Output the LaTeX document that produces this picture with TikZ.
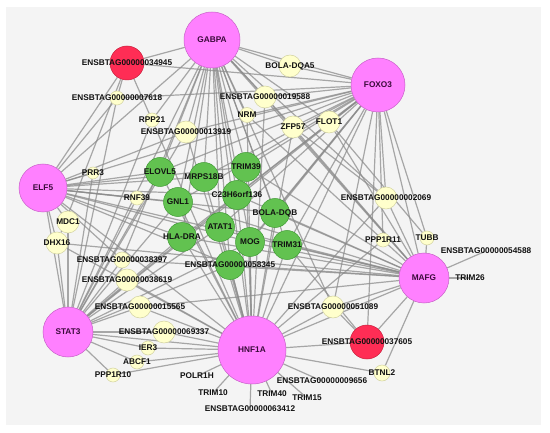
\documentclass[tikz,border=0pt]{standalone}
\usepackage{fontspec}
\setmainfont{Liberation Sans}
\usetikzlibrary{backgrounds}
\definecolor{hubfill}{HTML}{FF80FF}
\definecolor{hubline}{HTML}{C860C8}
\definecolor{redfill}{HTML}{FF2D55}
\definecolor{redline}{HTML}{C8203C}
\definecolor{grnfill}{HTML}{62C250}
\definecolor{grnline}{HTML}{3E9A32}
\definecolor{yelfill}{HTML}{FFFFCC}
\definecolor{yelline}{HTML}{D2D2A0}
\definecolor{bggray}{HTML}{F4F4F4}
\definecolor{edgecol}{HTML}{8C8C8C}
\definecolor{hubtext}{HTML}{3A0A3A}
\definecolor{plaintext}{HTML}{111111}
\tikzset{
  hub/.style={circle,inner sep=0pt,fill=hubfill,draw=hubline,line width=0.5bp},
  redn/.style={circle,inner sep=0pt,fill=redfill,draw=redline,line width=0.5bp},
  grn/.style={circle,inner sep=0pt,fill=grnfill,draw=grnline,line width=0.5bp},
  yel/.style={circle,inner sep=0pt,fill=yelfill,draw=yelline,line width=0.5bp},
  hid/.style={circle,inner sep=0pt},
  lbl/.style={inner sep=0pt,font=\bfseries\fontsize{8.3}{9}\selectfont},
  edge/.style={draw=edgecol,draw opacity=0.75,line width=1.2bp}
}
\def\nodelist{gabpa/212/40/hub/56/GABPA/hubtext,
foxo/378/85/hub/54/FOXO3/hubtext,
elf/43/188/hub/48/ELF5/hubtext,
stat/68/332/hub/50/STAT3/hubtext,
hnf/252/350/hub/68/HNF1A/hubtext,
mafg/424/278/hub/50/MAFG/hubtext,
ra/127/63/redn/34/ENSBTAG00000034945/plaintext,
rb/367/342/redn/34/ENSBTAG00000037605/plaintext,
dqa/290/66/yel/22/BOLA-DQA5/plaintext,
ea/265/97/yel/22/ENSBTAG00000019588/plaintext,
nrm/247/115/yel/15/NRM/plaintext,
zfp/293/127/yel/22/ZFP57/plaintext,
flot/329/122/yel/22/FLOT1/plaintext,
eb/117/98/yel/14/ENSBTAG00000007618/plaintext,
rpp/152/120/yel/14/RPP21/plaintext,
ec/186/132/yel/22/ENSBTAG00000013919/plaintext,
prr/93/173/yel/12/PRR3/plaintext,
rnf/137/198/yel/14/RNF39/plaintext,
mdc/68/222/yel/22/MDC1/plaintext,
dhx/57/243/yel/22/DHX16/plaintext,
ed/122/260/yel/16/ENSBTAG00000038397/plaintext,
ee/127/280/yel/22/ENSBTAG00000038619/plaintext,
ef/140/307/yel/22/ENSBTAG00000015565/plaintext,
eg/164/332/yel/22/ENSBTAG00000069337/plaintext,
ier/148/348/yel/14/IER3/plaintext,
abcf/137/362/yel/14/ABCF1/plaintext,
pten/113/375/yel/14/PPP1R10/plaintext,
polr/197/376/hid/2/POLR1H/plaintext,
tten/213/393/hid/2/TRIM10/plaintext,
tforty/272/394/hid/2/TRIM40/plaintext,
tfif/307/398/hid/2/TRIM15/plaintext,
eh/250/409/hid/2/ENSBTAG00000063412/plaintext,
ei/322/381/hid/2/ENSBTAG00000009656/plaintext,
btnl/382/373/yel/16/BTNL2/plaintext,
ej/333/307/yel/22/ENSBTAG00000051089/plaintext,
ek/386/198/yel/22/ENSBTAG00000002069/plaintext,
pel/383/240/yel/14/PPP1R11/plaintext,
tubb/427/238/yel/14/TUBB/plaintext,
el/486/251/hid/2/ENSBTAG00000054588/plaintext,
tts/470/278/hid/2/TRIM26/plaintext,
elovl/160/172/grn/29/ELOVL5/plaintext,
mrps/204/177/grn/29/MRPS18B/plaintext,
ttn/246/167/grn/29/TRIM39/plaintext,
gnl/178/202/grn/29/GNL1/plaintext,
corf/237/195/grn/29/C23H6orf136/plaintext,
dqb/275/213/grn/29/BOLA-DQB/plaintext,
atat/220/227/grn/29/ATAT1/plaintext,
hla/182/237/grn/29/HLA-DRA/plaintext,
mog/250/242/grn/29/MOG/plaintext,
tto/287/245/grn/29/TRIM31/plaintext,
em/230/265/grn/29/ENSBTAG00000058345/plaintext}
\begin{document}
\begin{tikzpicture}[x=1bp,y=-1bp]
\useasboundingbox (0,0) rectangle (550,433);
\foreach \n/\x/\y/\s/\d/\t/\c in \nodelist {\node[\s,minimum size=\d bp] (\n) at (\x,\y) {};}
\begin{pgfonlayer}{background}
\fill[white] (0,0) rectangle (550,433);
\fill[bggray] (6,7) rectangle (541,425);
\foreach \a/\b in {
gabpa/foxo,gabpa/elf,gabpa/hnf,gabpa/mafg,gabpa/stat,gabpa/ra,gabpa/dqa,gabpa/ea,gabpa/nrm,gabpa/zfp,gabpa/flot,gabpa/ec,gabpa/rpp,gabpa/elovl,gabpa/mrps,gabpa/ttn,gabpa/gnl,gabpa/corf,gabpa/atat,gabpa/hla,gabpa/mog,gabpa/dqb,gabpa/tto,gabpa/em,gabpa/ek,gabpa/ed,gabpa/ej,
foxo/dqa,foxo/ea,foxo/zfp,foxo/flot,foxo/nrm,foxo/eb,foxo/ra,foxo/ttn,foxo/corf,foxo/dqb,foxo/mog,foxo/tto,foxo/em,foxo/atat,foxo/mrps,foxo/elovl,foxo/gnl,foxo/hla,foxo/elf,foxo/stat,foxo/hnf,foxo/mafg,foxo/ek,foxo/tubb,foxo/pel,foxo/ej,foxo/rb,foxo/ec,
elf/prr,elf/rnf,elf/mdc,elf/dhx,elf/stat,elf/eb,elf/ra,elf/elovl,elf/gnl,elf/hla,elf/mrps,elf/corf,elf/ttn,elf/mog,elf/em,elf/mafg,elf/ec,elf/hnf,elf/ed,elf/dqb,
stat/mdc,stat/dhx,stat/ed,stat/ee,stat/ef,stat/eg,stat/ier,stat/abcf,stat/pten,stat/hnf,stat/elovl,stat/gnl,stat/hla,stat/atat,stat/em,stat/rnf,stat/prr,stat/ec,stat/rpp,stat/mog,stat/eb,stat/corf,
hnf/eg,hnf/ier,hnf/abcf,hnf/pten,hnf/ef,hnf/ee,hnf/polr,hnf/tten,hnf/eh,hnf/tforty,hnf/tfif,hnf/ei,hnf/btnl,hnf/rb,hnf/ej,hnf/mafg,hnf/hla,hnf/atat,hnf/mog,hnf/em,hnf/tto,hnf/dqb,hnf/corf,hnf/ttn,hnf/gnl,hnf/mrps,hnf/elovl,hnf/ec,hnf/nrm,hnf/zfp,hnf/ea,hnf/ek,hnf/pel,hnf/dhx,hnf/rpp,
mafg/tts,mafg/el,mafg/tubb,mafg/pel,mafg/ek,mafg/rb,mafg/btnl,mafg/ej,mafg/tto,mafg/mog,mafg/dqb,mafg/em,mafg/atat,mafg/hla,mafg/corf,mafg/ed,mafg/dhx,mafg/ef,mafg/zfp,mafg/flot,mafg/ttn,mafg/ea,mafg/gnl,
ra/eb,ra/rpp,ra/dhx,rb/ej,rb/tto,ek/zfp,pel/nrm,tubb/flot}
{\draw[edge] (\a) -- (\b);}
\end{pgfonlayer}
\foreach \n/\x/\y/\s/\d/\t/\c in \nodelist {\node[lbl,text=\c] at (\n) {\t};}
\end{tikzpicture}
\end{document}
